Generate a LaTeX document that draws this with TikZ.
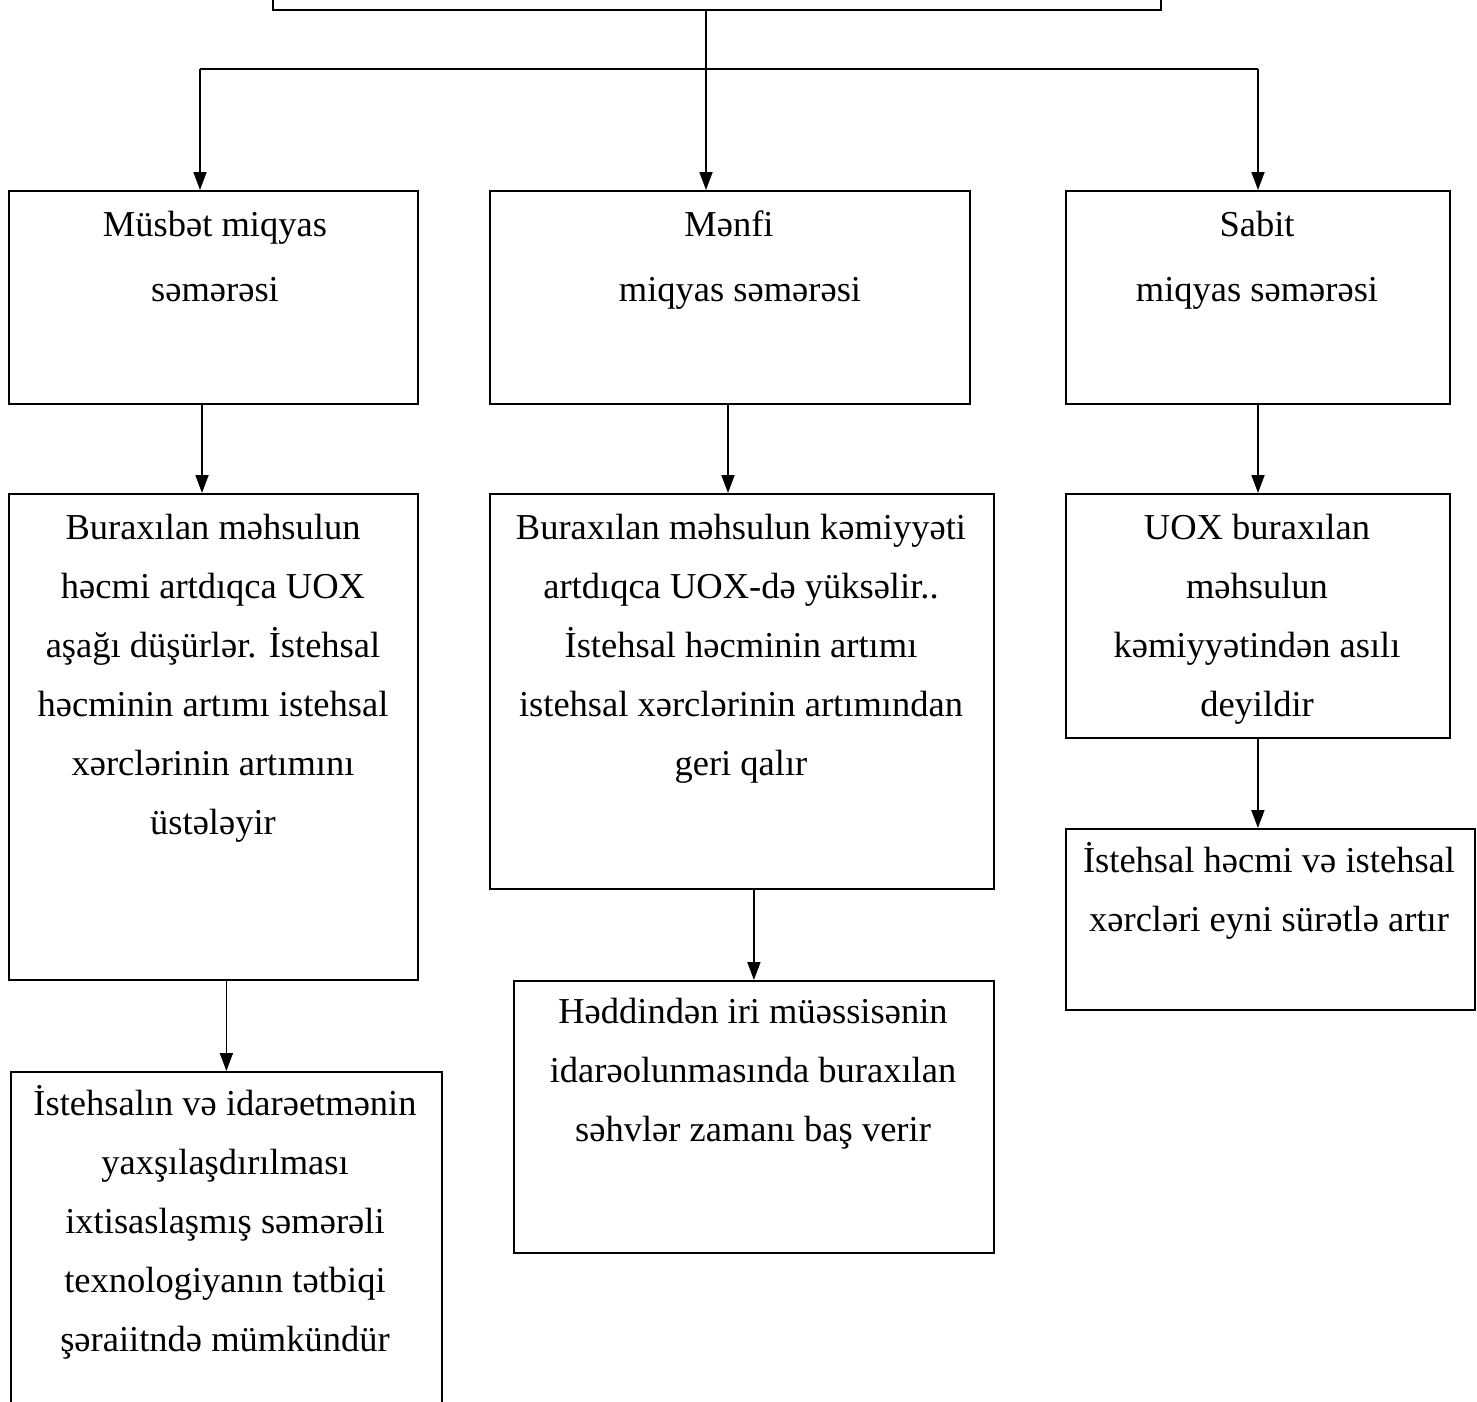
\documentclass[tikz,border=0pt]{standalone}
\usepackage{fontspec}
\setmainfont{Liberation Serif}
\usetikzlibrary{arrows.meta}
\begin{document}
\begin{tikzpicture}[x=1pt,y=-1pt,
  box/.style={draw,line width=1.8pt,rectangle,inner sep=0pt,anchor=north west},
  txt/.style={align=center,inner sep=0pt,anchor=north,font=\fontsize{36.5}{59}\selectfont},
  txtone/.style={align=center,inner sep=0pt,anchor=north,font=\fontsize{36.5}{65}\selectfont},
  arr/.style={line width=1.8pt,-{Triangle[length=18pt,width=13pt]}},
  ln/.style={line width=1.8pt}]
\useasboundingbox (0,0) rectangle (1477,1401);
\clip (0,0) rectangle (1477,1401);
\newcommand{\fl}{\rule{0pt}{35pt}}
% boxes
\node[box,minimum width=888pt,minimum height=100pt] (T) at (272,-91) {};
\node[box,minimum width=409pt,minimum height=213pt] (A) at (8,190) {};
\node[box,minimum width=480pt,minimum height=213pt] (B) at (489,190) {};
\node[box,minimum width=384pt,minimum height=213pt] (C) at (1065,190) {};
\node[box,minimum width=409pt,minimum height=486pt] (A2) at (8,493) {};
\node[box,minimum width=504pt,minimum height=395pt] (B2) at (489,493) {};
\node[box,minimum width=384pt,minimum height=244pt] (C2) at (1065,493) {};
\node[box,minimum width=431pt,minimum height=400pt] (A3) at (10,1071) {};
\node[box,minimum width=480pt,minimum height=272pt] (B3) at (513,980) {};
\node[box,minimum width=409pt,minimum height=181pt] (C3) at (1065,828) {};
% texts
\node[txtone] (tA) at (215,201) {\fl Müsbət miqyas\\səmərəsi};
\node[txtone] (tB) at (740,201) {\fl Mənfi\rule{22pt}{0pt}\\miqyas səmərəsi};
\node[txtone] (tC) at (1257,201) {\fl Sabit\\miqyas səmərəsi};
\node[txt] (tA2) at (213,504) {\fl Buraxılan məhsulun\\həcmi artdıqca UOX\\aşağı düşürlər. İstehsal\\həcminin artımı istehsal\\xərclərinin artımını\\üstələyir};
\node[txt] (tB2) at (741,504) {\fl Buraxılan məhsulun kəmiyyəti\\artdıqca UOX-də yüksəlir..\\İstehsal həcminin artımı\\istehsal xərclərinin artımından\\geri qalır};
\node[txt] (tC2) at (1257,504) {\fl UOX buraxılan\\məhsulun\\kəmiyyətindən asılı\\deyildir};
\node[txt] (tA3) at (225,1080) {\fl İstehsalın və idarəetmənin\\yaxşılaşdırılması\\ixtisaslaşmış səmərəli\\texnologiyanın tətbiqi\\şəraiitndə mümkündür};
\node[txt] (tB3) at (753,988) {\fl Həddindən iri müəssisənin\\idarəolunmasında buraxılan\\səhvlər zamanı baş verir};
\node[txt] (tC3) at (1269,837) {\fl İstehsal həcmi və istehsal\\xərcləri eyni sürətlə artır};
% connectors
\coordinate (J) at (706,69);
\coordinate (JL) at (200,69);
\coordinate (JR) at (1258,69);
\coordinate (xa) at (202,0);
\coordinate (xb) at (728,0);
\draw[ln] (T.south -| J) -- (J);
\draw[arr] (J) -- (J |- B.north);
\draw[ln] (JL) -- (JR);
\draw[arr] (JL) -- (JL |- A.north);
\draw[arr] (JR) -- (JR |- C.north);
\draw[arr] (A.south -| xa) -- (A2.north -| xa);
\draw[arr] (B.south -| xb) -- (B2.north -| xb);
\draw[arr] (C.south -| JR) -- (C2.north -| JR);
\draw[arr] (A2.south -| A3.north) -- (A3.north);
\draw[arr] (B2.south -| B3.north) -- (B3.north);
\draw[arr] (C2.south) -- (C2.south |- C3.north);
\end{tikzpicture}
\end{document}
